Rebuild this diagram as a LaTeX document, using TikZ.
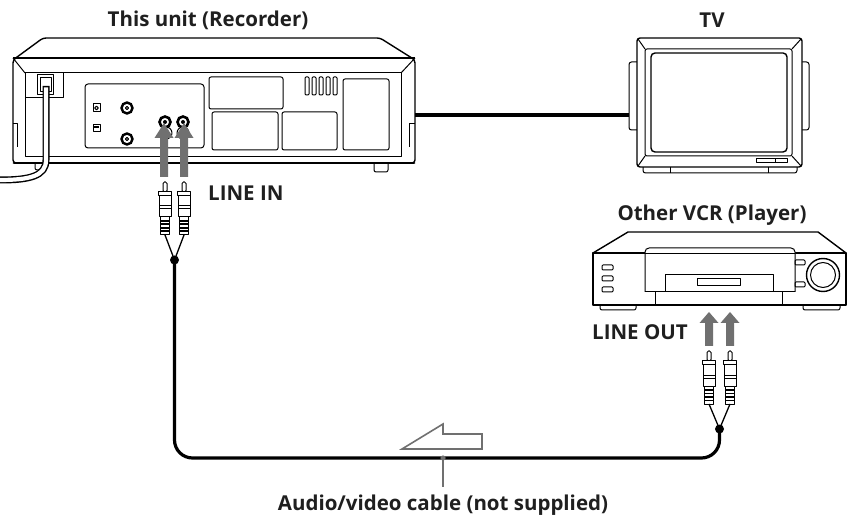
\documentclass[tikz,border=0pt]{standalone}
\usepackage{fontspec}
\setmainfont{Open Sans}
\definecolor{arrowgray}{HTML}{707070}
\tikzset{
  lbl/.style={font=\bfseries\fontsize{20.5}{24}\selectfont, text=black!88, inner sep=0pt},
  outl/.style={draw=black, line width=1.4pt, line join=round},
  thinl/.style={draw=black, line width=1pt, line join=round},
  heavy/.style={draw=black, line width=2.8pt, line cap=round},
  cablel/.style={draw=black, line width=3.2pt, line join=round},
  openarrow/.style={draw=arrowgray, line width=1.6pt, line join=miter, fill=white},
  pics/rcaplug/.style={code={
    \fill[white] (-6,0) rectangle (6,53);
    \draw[thinl, fill=white, rounded corners=1.5pt] (-2,0) rectangle (2,10);
    \draw[thinl, fill=white] (-6.5,10) rectangle (6.5,14);
    \draw[thinl, fill=white] (-6,14) rectangle (6,35);
    \draw[thinl] (-6,24) -- (6,24);
    \draw[thinl] (-6,27) -- (6,27);
    \draw[thinl, fill=white] (-4.5,35) rectangle (4.5,53);
    \foreach \yy in {38,41.5,45,48.5} {\fill[black] (-4.5,\yy) rectangle (4.5,\yy+1.8);}
  }},
  pics/grayup/.style 2 args={code={
    \fill[arrowgray] (-4,0) -- (-4,-#1) -- (-9.5,-#1) -- (0,-#1-#2) -- (9.5,-#1) -- (4,-#1) -- (4,0) -- cycle;
  }}
}
\begin{document}
\begin{tikzpicture}[x=1pt,y=-1pt]
\useasboundingbox (0,0) rectangle (851,518);
\fill[white] (0,0) rectangle (851,518);

% ================= Recorder =================
% feet
\draw[thinl, fill=white, rounded corners=2pt] (374,160) rectangle (388,172);
\draw[thinl, fill=white, rounded corners=2pt] (35,160) rectangle (44,170);
% body
\draw[outl, fill=white, rounded corners=3pt] (13,163) -- (13,60) -- (43,38) -- (380,38) -- (415,60) -- (415,163) -- cycle;
\draw[outl] (13,58) -- (415,58);
\draw[thinl] (13,58) -- (25,73);
\draw[thinl] (415,58) -- (401,73);
\draw[thinl] (25,73) rectangle (401,157);
\draw[heavy] (14,163) -- (414,163);
% side notches
\draw[thinl] (13,124) -- (17.5,124) -- (17.5,147);
\draw[thinl] (415,124) -- (409,124) -- (409,147);
% power socket area
\draw[thinl] (63,73) -- (63,98) -- (25,98);
\draw[thinl, fill=white] (37,75) rectangle (53,95);
\draw[thinl] (40,77.5) rectangle (51,92);
% power cord
\draw[line width=7pt, black, line cap=butt] (46,86) -- (46,160) .. controls (46,176) and (30,180) .. (0,180);
\draw[line width=4.2pt, white, line cap=butt] (46,87.5) -- (46,160) .. controls (46,176) and (30,180) .. (-1,180);
% jack panel
\draw[thinl, rounded corners=3pt] (85,84) rectangle (204,148);
\draw[thinl] (93,104) rectangle (100,112);
\draw[thinl] (96.5,108) circle[radius=1.8pt];
\draw[thinl] (93,125) rectangle (100,132);
\fill (94,126) rectangle (99,128.5);
\draw[black, line width=2.4pt] (127,108) circle[radius=5.5pt];
\draw[thinl] (127,108) circle[radius=1.6pt];
\draw[black, line width=2.4pt] (127,139) circle[radius=5.5pt];
\draw[thinl] (127,139) circle[radius=1.6pt];
% RCA jacks
\draw[thinl] (166,133) circle[radius=6pt];
\draw[thinl] (183,133) circle[radius=6pt];
\draw[black, line width=2.6pt, fill=white] (165,122) circle[radius=5.5pt];
\fill (165,122) circle[radius=2pt];
\draw[black, line width=2.6pt, fill=white] (183,122) circle[radius=5.5pt];
\fill (183,122) circle[radius=2pt];
% panels
\draw[thinl, rounded corners=2pt] (209,77) rectangle (283,109);
\draw[thinl, rounded corners=2pt] (212,112) rectangle (278,150);
\draw[thinl, rounded corners=2pt] (282,112) rectangle (337,150);
\draw[thinl, rounded corners=2pt] (343,79) rectangle (389,150);
\foreach \vx in {305,312,319,326,333} {\draw[thinl, rounded corners=1pt] (\vx,77) rectangle (\vx+4,95);}

% ================= TV =================
\draw[thinl, fill=white, rounded corners=2.5pt] (629,62) rectangle (640,130);
\draw[thinl, fill=white, rounded corners=2.5pt] (799,62) rectangle (809,130);
\draw[thinl, fill=white, rounded corners=2.5pt] (643,163) rectangle (797,173);
\draw[thinl] (670,167) -- (670,173);
\draw[thinl] (768,167) -- (768,173);
\draw[outl, fill=white, rounded corners=3pt] (637,38) rectangle (802,167);
\draw[thinl, rounded corners=2pt] (645,49) rectangle (792,156);
\draw[outl, rounded corners=4pt] (651,53) rectangle (787,152);
\draw[thinl] (638,39) -- (645,49);
\draw[thinl] (801,39) -- (792,49);
\draw[thinl] (638,166) -- (645,156);
\draw[thinl] (801,166) -- (792,156);
\draw[thinl] (756,159) rectangle (787,163);
\draw[thinl] (775,159) -- (775,163);

% recorder -> TV cable
\coordinate (recR) at (415,115);
\coordinate (tvL) at (629,115);
\draw[cablel] (recR) -- (tvL);

% ================= Other VCR =================
\draw[thinl, fill=white, rounded corners=2pt] (600,302) rectangle (636,310);
\draw[thinl, fill=white, rounded corners=2pt] (803,302) rectangle (840,310);
\draw[outl, fill=white] (628,232) -- (818,232) -- (846,253) -- (593,253) -- cycle;
\draw[outl, fill=white] (593,253) rectangle (846,305);
\draw[heavy] (594,305) -- (845,305);
\draw[thinl, fill=white, rounded corners=4pt] (645,292) -- (645,248) -- (795,248) -- (795,292);
\draw[thinl] (645,254) -- (795,254);
\draw[thinl] (645,292) -- (795,292);
\draw[thinl] (655,292) -- (655,304);
\draw[thinl] (782,292) -- (782,304);
\draw[thinl] (665,292) -- (665,275) -- (773,275) -- (773,292);
\draw[thinl] (697,279) rectangle (740,286);
\foreach \by in {265,276,287} {\draw[thinl, rounded corners=1pt] (602,\by) rectangle (613,\by+5);}
\draw[thinl, rounded corners=1pt] (795,260) rectangle (805,265);
\draw[thinl, rounded corners=1pt] (795,282) rectangle (805,287);
\draw[outl] (823,275) circle[radius=16.5pt];
\draw[thinl] (823,275) circle[radius=12.5pt];

% ================= Arrows and plugs =================
\pic at (164,177) {grayup={39}{15}};
\pic at (184,177) {grayup={39}{15}};
\pic at (709,346) {grayup={23}{11}};
\pic at (730,346) {grayup={23}{11}};

\pic at (165,182) {rcaplug};
\pic at (184,182) {rcaplug};
\pic at (709,351) {rcaplug};
\pic at (730,351) {rcaplug};

\coordinate (jr) at (174.5,260);
\coordinate (jp) at (719.5,429);
\draw[thinl, line width=1.3pt] (165,235) -- (jr) -- (184,235);
\draw[thinl, line width=1.3pt] (709,404) -- (jp) -- (730,404);
\coordinate (cl) at (174.5,458);
\coordinate (cr) at (719.5,458);
\draw[cablel, rounded corners=18pt] (jr) -- (cl) -- (cr) -- (jp);
\fill (jr) circle[radius=4.5pt];
\fill (jp) circle[radius=4.5pt];

% open direction arrow
\draw[openarrow] (402,449) -- (443,424) -- (443,434) -- (482,434) -- (482,449) -- cycle;

% ================= Labels =================
\node[lbl] (title) at (208,20) {This unit (Recorder)};
\node[lbl] (tvlabel) at (712,20) {TV};
\node[lbl, anchor=west] (linein) at (208,193) {LINE IN};
\node[lbl] (playerlabel) at (712,215) {Other VCR (Player)};
\node[lbl, anchor=west] (lineout) at (592,332) {LINE OUT};
\node[lbl] (cablelabel) at (443,505) {Audio/video cable (not supplied)};
\coordinate (calltop) at (443,458);
\draw[draw=arrowgray, line width=1.6pt] (calltop) -- (443,487);
\fill[arrowgray] (calltop) circle[radius=2.6pt];
\end{tikzpicture}
\end{document}
